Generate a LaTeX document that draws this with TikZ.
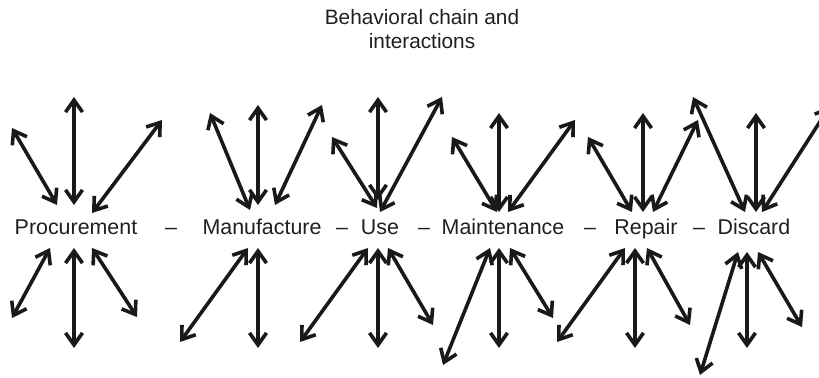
\documentclass[tikz,border=0pt]{standalone}
\usepackage{fontspec}
\setmainfont{Liberation Sans}
\usetikzlibrary{arrows.meta,positioning}

\begin{document}
\begin{tikzpicture}
  [x=0.5pt,y=-0.5pt,
  stufe/.style={inner sep=0pt, anchor=base, text=black!88, font=\fontsize{10.7}{13}\selectfont},
  pfeil/.style={{Straight Barb[length=6pt,width=8.5pt]}-{Straight Barb[length=6pt,width=8.5pt]}, line width=1.8pt, draw=black!90}]
  \useasboundingbox (0,0) rectangle (819,378);
  \clip (0,0) rectangle (819,378);
  \node (titel) [align=center, text=black!88, font=\fontsize{10.4}{12}\selectfont] at (422,29) {Behavioral chain and\\interactions};
  % the chain
  \node (procurement) [stufe] at (76,235) {Procurement};
  \node (strich1) [stufe] at (171,235) {--};
  \node (manufacture) [stufe] at (262,235) {Manufacture};
  \node (strich2) [stufe] at (342,235) {--};
  \node (use) [stufe] at (380,235) {Use};
  \node (strich3) [stufe] at (424,235) {--};
  \node (maintenance) [stufe] at (503,235) {Maintenance};
  \node (strich4) [stufe] at (590,235) {--};
  \node (repair) [stufe] at (646,235) {Repair};
  \node (strich5) [stufe] at (699,235) {--};
  \node (discard) [stufe] at (754,235) {Discard};
  % interactions above
  \foreach \xa/\ya/\xb/\yb in {12/128/57/205, 74/97/74/205, 162/120/92/213,
      210/113/250/210, 258/105/258/205, 322/105/275/205,
      332/137/377/208, 378/97/378/200, 442/97/380/212,
      452/137/497/212, 499/113/499/212, 575/120/508/212,
      588/137/632/212, 643/113/643/212, 698/120/653/212,
      693/97/745/212, 756/113/756/212, 830/106/762/212}
    \draw[pfeil] (\xa,\ya) -- (\xb,\yb);
  % interactions below
  \foreach \xa/\ya/\xb/\yb in {50/248/12/318, 74/248/74/348, 92/248/137/317,
      248/248/180/342, 258/248/258/348,
      368/248/300/342, 378/248/378/348, 388/248/433/325,
      490/248/443/365, 499/248/499/348, 510/248/553/318,
      625/248/557/342, 635/248/635/348, 647/248/690/325,
      738/252/700/375, 747/252/747/348, 758/252/802/327}
    \draw[pfeil] (\xa,\ya) -- (\xb,\yb);
\end{tikzpicture}
\end{document}
